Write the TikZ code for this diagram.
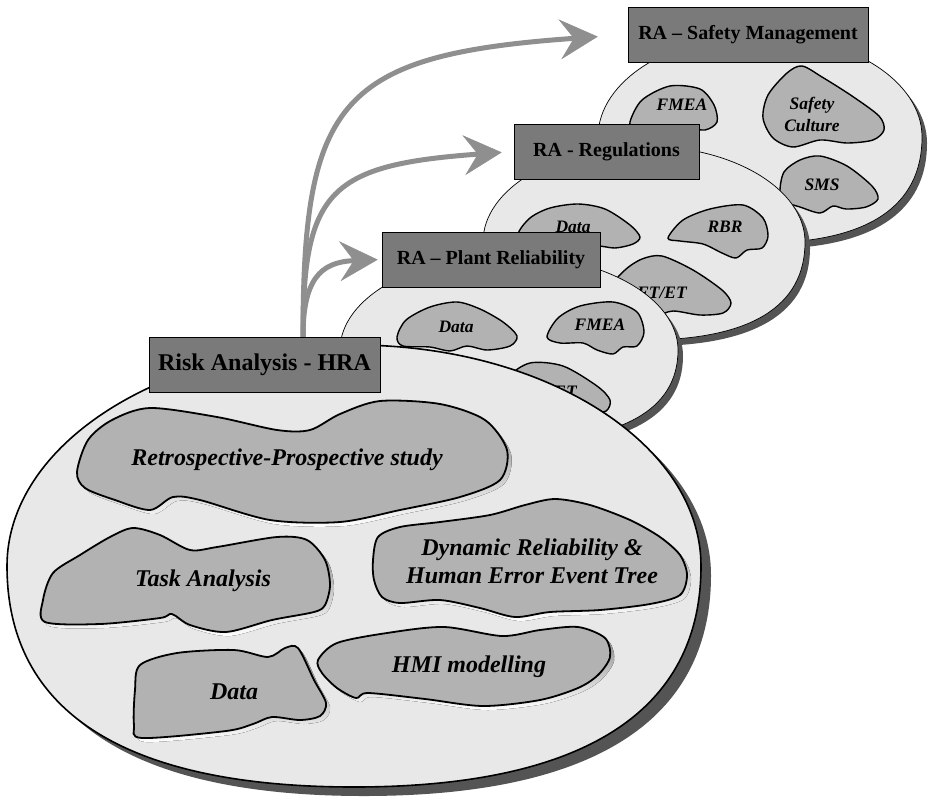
\documentclass[tikz,border=0pt]{standalone}
\usepackage{fontspec}
\setmainfont{Liberation Serif}
\usepackage{tikz}
\usetikzlibrary{arrows.meta}

\definecolor{ovalgray}{gray}{0.91}
\definecolor{blobgray}{gray}{0.70}
\definecolor{labelgray}{gray}{0.48}
\definecolor{shade}{gray}{0.33}
\definecolor{arrowgray}{gray}{0.56}

% egg-shaped oval: [options]{cx}{cy}{rx}{ry top}{ry bottom}
\newcommand\egg[6][]{\path[#1] (#2-#4,#3) .. controls (#2-#4,#3-0.552*#5) and (#2-0.552*#4,#3-#5) .. (#2,#3-#5)
 .. controls (#2+0.552*#4,#3-#5) and (#2+#4,#3-0.552*#5) .. (#2+#4,#3)
 .. controls (#2+#4,#3+0.66*#6) and (#2+0.66*#4,#3+#6) .. (#2,#3+#6)
 .. controls (#2-0.66*#4,#3+#6) and (#2-#4,#3+0.66*#6) .. (#2-#4,#3) -- cycle;}
\newcommand\bigblob[1]{\fill[shade,xshift=4pt,yshift=-4pt] plot[smooth cycle] coordinates {#1};
 \draw[line width=1.8pt,fill=blobgray] plot[smooth cycle] coordinates {#1};}
\newcommand\smallblob[1]{\draw[line width=1.4pt,fill=blobgray] plot[smooth cycle] coordinates {#1};}

\begin{document}
\begin{tikzpicture}[x={(1pt,0)},y={(0,-1pt)},
 lbl/.style={draw=black,line width=0.6pt,fill=labelgray,inner sep=2pt,minimum height=55pt,
  font=\fontsize{20}{22}\selectfont\bfseries},
 bigtxt/.style={font=\fontsize{24}{28}\selectfont\bfseries\itshape,align=center},
 smalltxt/.style={font=\fontsize{17.5}{21}\selectfont\bfseries\itshape,align=center},
 arr/.style={draw=arrowgray,line width=5pt,-{Stealth[length=38pt,width=40pt,inset=14pt,line width=0.5pt]}}]
\useasboundingbox[fill=white] (0,0) rectangle (928,798);

% safety management
\egg[fill=shade]{765}{143}{162}{102}{106}
\egg[fill=ovalgray,draw,line width=0.7pt]{760}{137}{162}{102}{106}
\smallblob{(630,122) (642,100) (670,86) (700,89) (714,105) (717,122) (705,130) (685,128) (660,135) (635,132)}
\smallblob{(763,118) (768,95) (787,73) (802,66) (822,77) (852,96) (879,116) (884,130) (873,140) (847,143) (820,140) (793,147) (773,138)}
\smallblob{(780,192) (784,172) (800,160) (820,156) (847,166) (872,186) (878,199) (866,207) (846,209) (833,206) (820,213) (800,207) (786,202)}
\node[smalltxt] (sfmea) at (682,105) {FMEA};
\node[smalltxt,font=\fontsize{17.5}{22}\selectfont\bfseries\itshape] (sculture) at (812,114) {Safety\\Culture};
\node[smalltxt] (ssms) at (822,185) {SMS};
\node[lbl,minimum width=240pt] (safe) at (748,34.5) {RA – Safety Management};

% regulations
\egg[fill=shade]{649}{248}{161}{96}{98}
\egg[fill=ovalgray,draw,line width=0.7pt]{644}{242}{161}{96}{98}
\smallblob{(518,235) (530,218) (550,208) (578,204) (605,209) (630,225) (640,237) (633,244) (615,248) (595,246) (560,252) (530,250)}
\smallblob{(668,238) (683,220) (710,209) (743,205) (763,218) (768,236) (762,248) (747,250) (736,258) (722,253) (703,244) (680,241)}
\smallblob{(615,285) (625,270) (642,259) (662,256) (693,270) (722,290) (731,303) (723,313) (700,315) (673,311) (655,316) (630,315)}
\node[smalltxt] (rdata) at (573,227) {Data};
\node[smalltxt] (rrbr) at (725,227) {RBR};
\node[smalltxt] (rftet) at (662,293) {FT/ET};
\node[lbl,minimum width=185pt] (regs) at (606.5,151.5) {RA - Regulations};

% plant reliability
\egg[fill=shade]{514}{356}{169}{95}{92}
\egg[fill=ovalgray,draw,line width=0.7pt]{509}{350}{169}{95}{92}
\smallblob{(397,337) (406,320) (430,307) (457,302) (480,309) (503,322) (517,336) (510,346) (487,350) (467,346) (450,351) (430,347) (403,346)}
\smallblob{(547,337) (558,318) (580,306) (613,302) (637,312) (644,332) (637,346) (623,347) (613,354) (597,350) (583,343) (560,343)}
\smallblob{(508,378) (530,363) (563,366) (597,386) (610,400) (606,411) (588,414) (560,420) (530,420) (510,400)}
\node[smalltxt] (pdata) at (456,327) {Data};
\node[smalltxt] (pfmea) at (600,325) {FMEA};
\node[smalltxt] (pftet) at (552,392) {FT/ET};
\node[lbl,minimum width=218pt] (plant) at (491,259.5) {RA – Plant Reliability};

% risk analysis - HRA
\egg[fill=shade]{364}{575}{347}{221}{221}
\egg[fill=ovalgray,draw,line width=1.6pt]{354}{566}{347}{221}{221}
\bigblob{(77,472) (88,440) (112,420) (150,408) (217,417) (277,430) (310,430) (340,414) (380,401) (440,404) (485,420) (507,450) (500,480) (460,497) (400,510) (340,522) (270,520) (200,500) (173,497) (150,510) (115,500) (85,488)}
\bigblob{(45,622) (43,600) (53,573) (80,555) (110,537) (133,528) (160,535) (190,550) (217,547) (277,537) (307,540) (325,560) (330,585) (325,605) (314,612) (272,620) (226,632) (190,625) (172,614) (160,618) (100,624)}
\bigblob{(373,560) (378,537) (400,527) (440,522) (490,515) (525,505) (555,499) (590,505) (630,520) (660,537) (680,555) (687,575) (680,595) (650,604) (600,610) (550,612) (515,617) (480,608) (440,600) (400,603) (382,597) (374,580)}
\bigblob{(135,690) (140,665) (177,653) (234,650) (268,657) (285,648) (298,648) (314,680) (326,703) (320,716) (300,720) (272,717) (253,724) (226,731) (142,738) (134,725)}
\bigblob{(318,660) (337,643) (387,633) (444,627) (502,636) (540,630) (578,627) (605,638) (610,657) (598,675) (578,688) (540,700) (483,706) (425,699) (368,693) (356,698) (337,688) (322,673)}
\node[bigtxt] (retro) at (287,460) {Retrospective-Prospective study};
\node[bigtxt] (task) at (203,581) {Task Analysis};
\node[bigtxt] (dyn) at (532,561) {Dynamic Reliability \&\\Human Error Event Tree};
\node[bigtxt] (hdata) at (234,692) {Data};
\node[bigtxt] (hmi) at (469,667) {HMI modelling};

% arrows out of the HRA box
\coordinate (root) at (303,337);
\draw[arr,shorten >=30pt] (root) .. controls (303,100) and (340,55) .. (safe.west);
\draw[arr,shorten >=12pt] (root) .. controls (303,190) and (330,165) .. (regs.west);
\draw[arr,shorten >=4pt] (root) .. controls (303,280) and (320,262) .. (plant.west);
\node[lbl,minimum width=231pt,font=\fontsize{24}{26}\selectfont\bfseries] (hra) at (264.5,364.5) {Risk Analysis - HRA};
\end{tikzpicture}
\end{document}
